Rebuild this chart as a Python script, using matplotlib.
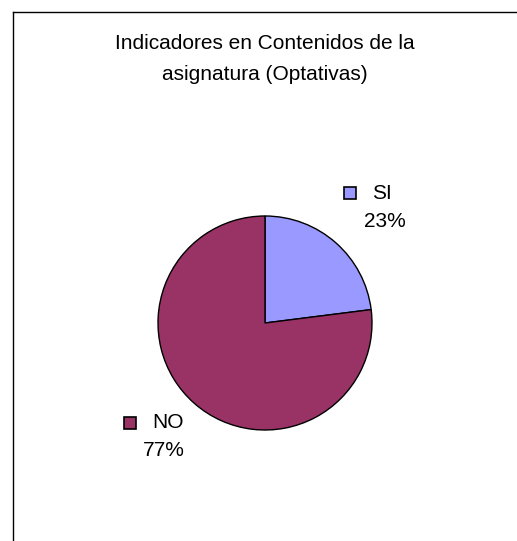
import matplotlib.pyplot as plt
from matplotlib.lines import Line2D

# Données
categories = ['SI', 'NO']
valeurs = [23, 77]
couleurs = ['#9999FF', '#993366']

fig = plt.figure(figsize=(5.17, 5.41), dpi=100)
W, H = 517, 541

# Cadre (haut et gauche)
fig.add_artist(Line2D([13 / W, 1], [1 - 12 / H, 1 - 12 / H], color='black', lw=1))
fig.add_artist(Line2D([13 / W, 13 / W], [0, 1 - 12 / H], color='black', lw=1))

# Titre
fig.text(265 / W, 1 - 59 / H, 'Indicadores en Contenidos de la\nasignatura (Optativas)',
         ha='center', va='center', fontsize=15, family='Liberation Sans', linespacing=1.75)

# Camembert
r = 107
ax = fig.add_axes([(265 - r) / W, 1 - (323 + r) / H, 2 * r / W, 2 * r / H])
ax.pie(valeurs, colors=couleurs, startangle=90, counterclock=False,
       wedgeprops=dict(edgecolor='black', linewidth=1))
ax.set_aspect('equal')
ax.set_xlim(-1, 1)
ax.set_ylim(-1, 1)

# Étiquettes
positions = [(350, 193, 385, 221), (130, 423, 164, 451)]
for cat, val, col, (mx, my, tx, ty) in zip(categories, valeurs, couleurs, positions):
    fig.add_artist(Line2D([mx / W], [1 - my / H], marker='s', markersize=8,
                          markerfacecolor=col, markeredgecolor='black', markeredgewidth=1.2))
    fig.text((mx + 22) / W, 1 - my / H, cat, ha='left', va='center',
             fontsize=15, family='Liberation Sans')
    fig.text(tx / W, 1 - ty / H, '%d%%' % val, ha='center', va='center',
             fontsize=15, family='Liberation Sans')

fig.savefig('out.png', dpi=100)
